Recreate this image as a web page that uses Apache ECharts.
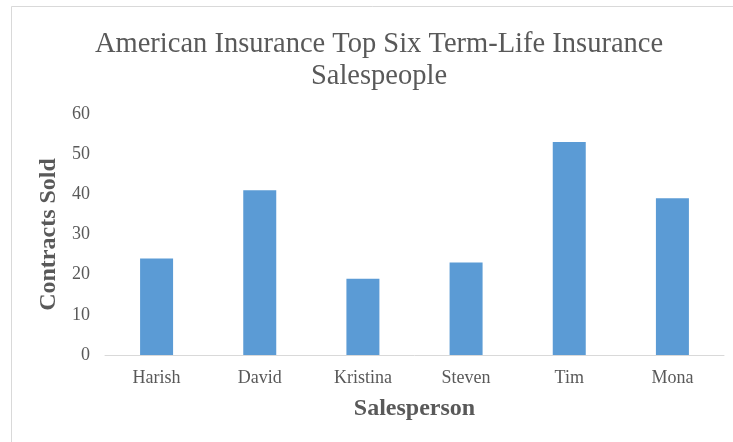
<!DOCTYPE html>
<html>
<head>
<meta charset="utf-8">
<script src="https://cdn.jsdelivr.net/npm/echarts@6/dist/echarts.min.js"></script>
<style>
  html, body { margin: 0; padding: 0; background: #fff; }
  #chart { width: 733px; height: 442px; }
</style>
</head>
<body>
<div id="chart"></div>
<script>
// Term-life contracts sold per salesperson
const salespeople = ['Harish', 'David', 'Kristina', 'Steven', 'Tim', 'Mona'];
const contractsSold = [24, 41, 19, 23, 53, 39];
const yTicks = { min: 0, max: 60, interval: 10 };

const serif = '"Liberation Serif", "Times New Roman", serif';
const grey = '#595959';

const chart = echarts.init(document.getElementById('chart'), null, { renderer: 'canvas' });

chart.setOption({
  animation: false,
  backgroundColor: '#ffffff',
  graphic: [{
    type: 'rect',
    shape: { x: 11.5, y: 6.5, width: 740, height: 460 },
    style: { fill: 'none', stroke: '#d9d9d9', lineWidth: 1 },
    z: -1
  }],
  title: {
    text: 'American Insurance Top Six Term-Life Insurance\nSalespeople',
    left: 374,
    textAlign: 'center',
    top: 24,
    textStyle: {
      fontFamily: serif,
      fontSize: 28.5,
      fontWeight: 'normal',
      color: grey,
      lineHeight: 32
    }
  },
  grid: { left: 105, right: 9, top: 114, bottom: 87, containLabel: false },
  xAxis: {
    type: 'category',
    data: salespeople,
    name: 'Salesperson',
    nameLocation: 'middle',
    nameGap: 42,
    nameTextStyle: { fontFamily: serif, fontSize: 24, fontWeight: 'bold', color: grey },
    axisLine: { lineStyle: { color: '#d9d9d9', width: 1 } },
    axisTick: { show: false },
    axisLabel: { fontFamily: serif, fontSize: 18, color: grey, margin: 14 }
  },
  yAxis: {
    type: 'value',
    min: yTicks.min,
    max: yTicks.max,
    interval: yTicks.interval,
    name: 'Contracts Sold',
    nameLocation: 'middle',
    nameGap: 44,
    nameTextStyle: { fontFamily: serif, fontSize: 24, fontWeight: 'bold', color: grey },
    axisLine: { show: false },
    axisTick: { show: false },
    splitLine: { show: false },
    axisLabel: { fontFamily: serif, fontSize: 18, color: grey, margin: 15 }
  },
  series: [{
    type: 'bar',
    data: contractsSold,
    barWidth: 33,
    itemStyle: { color: '#5b9bd5' }
  }]
});
</script>
</body>
</html>
